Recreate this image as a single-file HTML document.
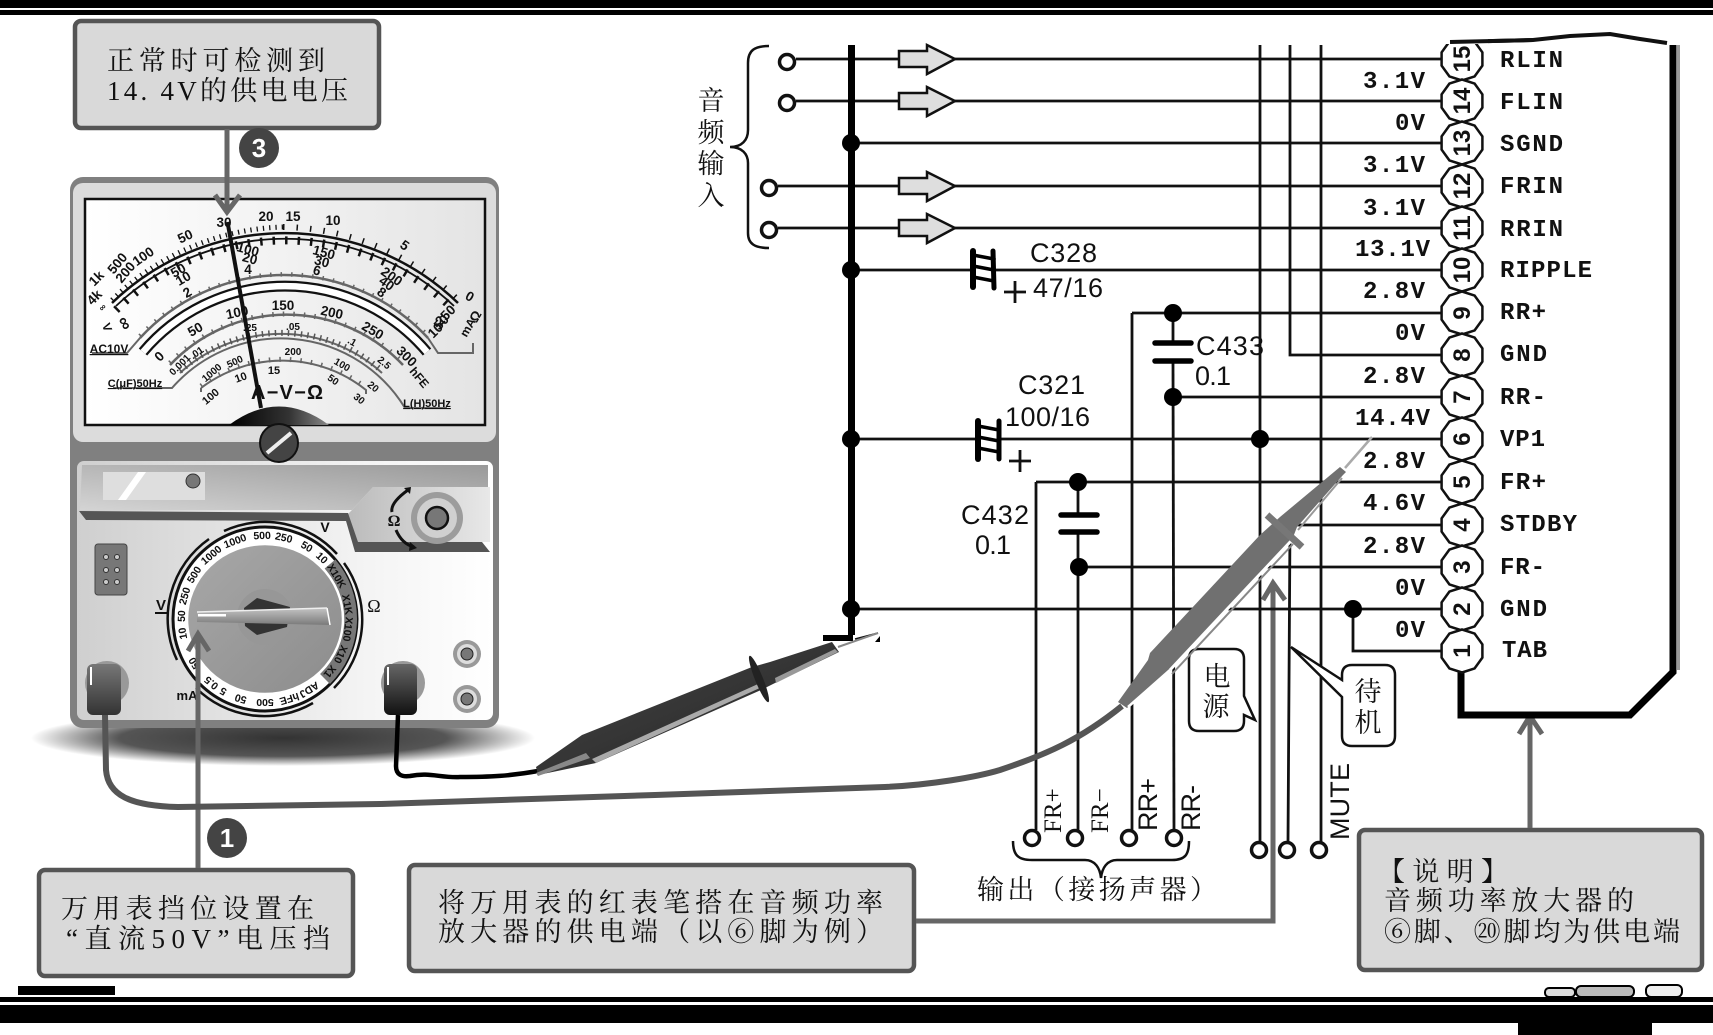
<!DOCTYPE html>
<html><head><meta charset="utf-8">
<style>
html,body{margin:0;padding:0;background:#fff}
svg{display:block}
.c{font-family:"Liberation Serif","Noto Serif CJK SC",serif;fill:#111}
.m{font-family:"Liberation Sans",sans-serif;font-weight:bold;font-size:13.5px;fill:#111;text-anchor:middle}
.d{font-family:"Liberation Sans",sans-serif;font-weight:bold;font-size:10.5px;fill:#111;text-anchor:middle}
.p{font-family:"Liberation Sans",sans-serif;font-size:24px;font-weight:bold;fill:#111;text-anchor:middle}
.l{font-family:"Liberation Mono",monospace;font-size:24px;font-weight:bold;fill:#111}
.s{font-family:"Liberation Sans",sans-serif;font-size:27px;fill:#111}
</style></head>
<body>
<svg width="1713" height="1035" viewBox="0 0 1713 1035" xmlns="http://www.w3.org/2000/svg">
<defs>
<linearGradient id="win" x1="0" x2="1" y1="0" y2="0"><stop offset="0" stop-color="#fff"/><stop offset="1" stop-color="#e4e4e4"/></linearGradient>
<linearGradient id="pan" x1="0" x2="1" y1="0" y2="0"><stop offset="0" stop-color="#cfcfcf"/><stop offset=".7" stop-color="#f4f4f4"/><stop offset="1" stop-color="#fff"/></linearGradient>
<linearGradient id="up" x1="0" x2="1" y1="1" y2="0"><stop offset="0" stop-color="#d4d4d4"/><stop offset="1" stop-color="#999"/></linearGradient>
<linearGradient id="upr" x1="0" x2="1" y1="0" y2="0"><stop offset="0" stop-color="#bbb"/><stop offset="1" stop-color="#e8e8e8"/></linearGradient>
<linearGradient id="dome" x1="0" x2="1" y1="0" y2="0"><stop offset="0" stop-color="#000"/><stop offset=".6" stop-color="#333"/><stop offset="1" stop-color="#888"/></linearGradient>
<linearGradient id="plug" x1="0" x2="0" y1="0" y2="1"><stop offset="0" stop-color="#777"/><stop offset="1" stop-color="#333"/></linearGradient>
<linearGradient id="plug2" x1="0" x2="0" y1="0" y2="1"><stop offset="0" stop-color="#666"/><stop offset="1" stop-color="#111"/></linearGradient>
<linearGradient id="hand" x1="0" x2="0" y1="0" y2="1"><stop offset="0" stop-color="#c4c4c4"/><stop offset="1" stop-color="#7a7a7a"/></linearGradient>
<linearGradient id="dial" x1="0" x2="1" y1="0" y2="1"><stop offset="0" stop-color="#a8a8a8"/><stop offset="1" stop-color="#8c8c8c"/></linearGradient>
<radialGradient id="sh"><stop offset="0" stop-color="#333"/><stop offset=".65" stop-color="#555"/><stop offset="1" stop-color="#fff"/></radialGradient>
<linearGradient id="pb" x1="0" x2="1" y1="0" y2="1"><stop offset="0" stop-color="#484848"/><stop offset="1" stop-color="#222"/></linearGradient>
<polygon id="pin" points="20.4,6.6 12.6,17.4 0,21.5 -12.6,17.4 -20.4,6.6 -20.4,-6.6 -12.6,-17.4 0,-21.5 12.6,-17.4 20.4,-6.6" fill="#fff" stroke="#111" stroke-width="2.5"/>
</defs>

<!-- frame bars -->
<rect x="0" y="0" width="1713" height="8" fill="#000"/>
<rect x="0" y="10" width="1713" height="5" fill="#000"/>
<rect x="0" y="997" width="1713" height="5" fill="#000"/>
<rect x="0" y="1005" width="1713" height="18" fill="#000"/>
<rect x="18" y="986" width="97" height="9" fill="#000"/>
<rect x="1518" y="1022" width="134" height="13" fill="#000"/>
<rect x="1545" y="988" width="30" height="9" rx="4" fill="#ddd" stroke="#000" stroke-width="2"/>
<rect x="1576" y="986" width="58" height="11" rx="5" fill="#bbb" stroke="#000" stroke-width="2"/>
<rect x="1646" y="985" width="36" height="12" rx="5" fill="#eee" stroke="#000" stroke-width="2"/>

<!-- meter shadow -->
<ellipse cx="283" cy="738" rx="252" ry="28" fill="url(#sh)"/>

<!-- meter body -->
<rect x="70" y="177" width="429" height="551" rx="13" fill="#808080"/>
<rect x="73" y="183" width="423" height="259" rx="10" fill="#dcdcdc"/>
<rect x="85" y="199" width="400" height="226" fill="url(#win)" stroke="#111" stroke-width="2.5"/>
<rect x="77" y="461" width="416" height="259" rx="7" fill="url(#pan)"/>
<polygon points="373,487 490,487 490,542 357,542 348,514 352,510" fill="url(#upr)"/>
<polygon points="82,465 488,465 488,487 373,487 352,510 80,510" fill="url(#up)"/>
<polygon points="79,511 348,513 358,542 482,542 490,552 355,552 346,521 86,520" fill="#555"/>
<rect x="103" y="472" width="102" height="28" fill="#dedede"/>
<polygon points="118,500 138,472 146,472 126,500" fill="#fff"/>
<circle cx="193" cy="481" r="7" fill="#777" stroke="#333"/>
<circle cx="437" cy="518" r="26" fill="#9c9c9c"/>
<circle cx="437" cy="518" r="20" fill="#d0d0d0"/>
<circle cx="437" cy="518" r="11" fill="#777" stroke="#111" stroke-width="2.5"/>
<path d="M408,490 Q390,503 392,512" fill="none" stroke="#111" stroke-width="3"/><path d="M404,488 L411,487 L410,494 Z" fill="#111"/>
<path d="M396,530 Q402,544 414,547" fill="none" stroke="#111" stroke-width="3"/><path d="M410,542 L417,548 L409,551 Z" fill="#111"/>
<text x="394" y="526" font-family="Liberation Serif,serif" font-weight="bold" font-size="16" text-anchor="middle" fill="#111">Ω</text>

<!-- 6-hole block -->
<rect x="95" y="544" width="32" height="51" rx="3" fill="#777" stroke="#444"/>
<g fill="#ccc" stroke="#333"><circle cx="106" cy="557" r="2.5"/><circle cx="117" cy="557" r="2.5"/><circle cx="106" cy="570" r="2.5"/><circle cx="117" cy="570" r="2.5"/><circle cx="106" cy="582" r="2.5"/><circle cx="117" cy="582" r="2.5"/></g>

<!-- small sockets -->
<circle cx="467" cy="654" r="14" fill="#999"/><circle cx="467" cy="654" r="10" fill="#ddd"/><circle cx="467" cy="654" r="6" fill="#777" stroke="#222"/>
<circle cx="467" cy="699" r="14" fill="#999"/><circle cx="467" cy="699" r="10" fill="#ddd"/><circle cx="467" cy="699" r="6" fill="#777" stroke="#222"/>

<!-- dial -->
<circle cx="265" cy="619" r="92" fill="#fff" stroke="#111" stroke-width="3"/>
<path d="M330,564 A85,85 0 0 1 325,679" fill="none" stroke="#777" stroke-width="14"/>
<g fill="none" stroke="#111" stroke-width="2.5">
<path d="M224,531 A97,97 0 0 1 337,554"/>
<path d="M177,660 A97,97 0 0 1 209,539"/>
<path d="M344,563 A97,97 0 0 1 334,688"/>
<path d="M313,703 A97,97 0 0 1 196,688"/>
</g>
<ellipse cx="265" cy="619" rx="78" ry="75" fill="url(#dial)" stroke="#fff" stroke-width="2.5"/>
<circle cx="265" cy="617" r="28" fill="#979797"/>
<polygon points="244,608 257,598 290,607 287,627 257,635 245,626" fill="#333"/>
<polygon points="197,612 327,608 330,625 197,622" fill="url(#hand)"/>
<line x1="327" y1="608" x2="330" y2="625" stroke="#fff" stroke-width="1.5"/>
<line x1="197" y1="612" x2="327" y2="608" stroke="#eee" stroke-width="1.5"/>
<rect x="198" y="614" width="28" height="2.5" fill="#fff"/>
<g>
<text class="d" x="265" y="539" transform="rotate(-21 265 619)">1000</text>
<text class="d" x="265" y="539" transform="rotate(-2 265 619)">500</text>
<text class="d" x="265" y="539" transform="rotate(13 265 619)">250</text>
<text class="d" x="265" y="539" transform="rotate(30 265 619)">50</text>
<text class="d" x="265" y="539" transform="rotate(43 265 619)">10</text>
<text class="d" x="265" y="539" transform="rotate(59 265 619)">X10K</text>
<text class="d" x="265" y="539" transform="rotate(80 265 619)">X1K</text>
<text class="d" x="265" y="539" transform="rotate(97 265 619)">X100</text>
<text class="d" x="265" y="539" transform="rotate(115 265 619)">X10</text>
<text class="d" x="265" y="539" transform="rotate(129 265 619)">X1</text>
<text class="d" x="265" y="539" transform="rotate(148 265 619)">ADJ</text>
<text class="d" x="265" y="539" transform="rotate(163 265 619)">hFE</text>
<text class="d" x="265" y="539" transform="rotate(180 265 619)">500</text>
<text class="d" x="265" y="539" transform="rotate(197 265 619)">50</text>
<text class="d" x="265" y="539" transform="rotate(210 265 619)">5</text>
<text class="d" x="265" y="539" transform="rotate(220 265 619)">0.5</text>
<text class="d" x="265" y="539" transform="rotate(238 265 619)">50</text>
<text class="d" x="265" y="539" transform="rotate(260 265 619)">10</text>
<text class="d" x="265" y="539" transform="rotate(272 265 619)">50</text>
<text class="d" x="265" y="539" transform="rotate(286 265 619)">250</text>
<text class="d" x="265" y="539" transform="rotate(302 265 619)">500</text>
<text class="d" x="265" y="539" transform="rotate(320 265 619)">1000</text>
</g>
<text class="m" x="161" y="610" style="font-size:15px">V</text><rect x="155" y="612" width="13" height="2" fill="#111"/>
<text class="m" x="325" y="532" style="font-size:14px">V</text>
<text x="374" y="612" font-family="Liberation Serif,serif" font-size="18" text-anchor="middle" fill="#111">Ω</text>
<text class="m" x="187" y="700" style="font-size:13px">mA</text>

<!-- plugs -->
<circle cx="107" cy="683" r="22" fill="#999"/>
<circle cx="403" cy="683" r="22" fill="#999"/>
<rect x="87" y="664" width="34" height="51" rx="6" fill="url(#plug)"/>
<rect x="384" y="664" width="33" height="51" rx="6" fill="url(#plug2)"/>
<rect x="90" y="667" width="2" height="18" fill="#fff"/><rect x="387" y="667" width="2" height="18" fill="#fff"/>

<!-- meter face arcs -->
<g fill="none" stroke-linecap="butt">
<path d="M112,303 A249,249 0 0 1 458,303" stroke="#111" stroke-width="2.5"/>
<path d="M116,306 A246,246 0 0 1 454,306" stroke="#111" stroke-width="1.8"/>
<path d="M112,300 A254,254 0 0 1 283,227" stroke="#111" stroke-width="5" stroke-dasharray="1.3 5"/>
<path d="M283,227 A254,254 0 0 1 458,300" stroke="#111" stroke-width="6" stroke-dasharray="1.5 12"/>
<path d="M116,310 A240,240 0 0 1 454,310" stroke="#111" stroke-width="8" stroke-dasharray="2.5 10"/>
<path d="M140,338 A196,196 0 0 1 428,338" stroke="#666" stroke-width="2.5"/>
<path d="M140,336 A199,199 0 0 1 428,336" stroke="#666" stroke-width="4.5" stroke-dasharray="1.5 9"/>
<path d="M140,338 L127,353 L92,353" stroke="#666" stroke-width="2"/>
<path d="M428,338 L438,353 L473,353 L473,343" stroke="#666" stroke-width="2"/>
<path d="M143,352 A186,186 0 0 1 427,352" stroke="#111" stroke-width="11"/>
<path d="M143,352 A186,186 0 0 1 427,352" stroke="#fff" stroke-width="6.5"/>
<path d="M170,365 A160,160 0 0 1 403,365" stroke="#666" stroke-width="2.5"/>
<path d="M170,363 A163,163 0 0 1 403,363" stroke="#666" stroke-width="5" stroke-dasharray="1.5 9"/>
<path d="M180,373 A150,150 0 0 1 382,373" stroke="#666" stroke-width="2"/>
<path d="M180,371 A153,153 0 0 1 382,371" stroke="#555" stroke-width="6" stroke-dasharray="1.5 5"/>
<path d="M113,388 L172,388 A145,145 0 0 1 405,408 L447,408" stroke="#666" stroke-width="2"/>
<path d="M201,388 L201,392 M201,388 A134,134 0 0 1 366,390 L366,394" stroke="#666" stroke-width="2"/>
<path d="M201,386 A137,137 0 0 1 366,388" stroke="#666" stroke-width="5" stroke-dasharray="1.5 9"/>
</g>
<g>
<text class="m" x="224" y="227">30</text><text class="m" x="266" y="221">20</text><text class="m" x="293" y="221">15</text><text class="m" x="333" y="225">10</text>
<text class="m" x="405" y="250" transform="rotate(35 405 245)">5</text>
<text class="m" x="185" y="241" transform="rotate(-25 185 236)">50</text>
<text class="m" x="143" y="261" transform="rotate(-35 143 256)">100</text>
<text class="m" x="117" y="268" transform="rotate(-50 117 263)">500</text>
<text class="m" x="125" y="277" transform="rotate(-50 125 272)">200</text>
<text class="m" x="96" y="283" transform="rotate(-45 96 278)">1k</text>
<text class="m" x="94" y="302" transform="rotate(-45 94 297)">4k</text>
<text class="m" x="248" y="254" transform="rotate(15 248 249)">100</text><text class="m" x="250" y="263" transform="rotate(15 250 258)">20</text><text class="m" x="248" y="274">4</text>
<text class="m" x="324" y="257" transform="rotate(15 324 252)">150</text><text class="m" x="322" y="266" transform="rotate(15 322 261)">30</text><text class="m" x="317" y="275" transform="rotate(15 317 270)">6</text>
<text class="m" x="392" y="281" transform="rotate(35 392 276)">200</text><text class="m" x="387" y="288" transform="rotate(35 387 283)">40</text><text class="m" x="382" y="297" transform="rotate(35 382 292)">8</text>
<text class="m" x="178" y="275" transform="rotate(-30 178 270)">50</text><text class="m" x="183" y="283" transform="rotate(-30 183 278)">10</text><text class="m" x="187" y="297" transform="rotate(-30 187 292)">2</text>
<text class="m" x="125" y="329" transform="rotate(60 125 323)" style="font-size:18px">∞</text>
<text class="m" x="101" y="311" transform="rotate(-45 101 306)" style="font-size:9px">∞</text>
<text class="m" x="108" y="332" transform="rotate(70 108 327)" style="font-size:12px">V</text>
<text class="m" x="470" y="301" transform="rotate(30 470 296)">0</text>
<text class="m" x="445" y="320" transform="rotate(-45 445 315)">250</text><text class="m" x="441" y="327" transform="rotate(-45 441 322)">50</text><text class="m" x="435" y="335" transform="rotate(-45 435 330)">10</text>
<text class="m" x="467" y="332" transform="rotate(-60 467 327)" style="font-size:12px">mA</text><text class="m" x="475" y="321" transform="rotate(-60 475 316)">Ω</text>
<text class="m" x="109" y="353" style="font-size:12px;text-decoration:underline">AC10V</text>
<text class="m" x="159" y="361" transform="rotate(-45 159 356)">0</text>
<text class="m" x="195" y="334" transform="rotate(-30 195 329)">50</text>
<text class="m" x="237" y="317" transform="rotate(-12 237 312)">100</text>
<text class="m" x="283" y="310">150</text>
<text class="m" x="332" y="317" transform="rotate(12 332 312)">200</text>
<text class="m" x="373" y="335" transform="rotate(30 373 330)">250</text>
<text class="m" x="407" y="361" transform="rotate(45 407 356)">300</text>
<text class="m" x="420" y="382" transform="rotate(50 420 377)" style="font-size:12px">hFE</text>
<text class="m" x="180" y="368" transform="rotate(-45 180 365)" style="font-size:10px">0.001</text>
<text class="m" x="197" y="356" transform="rotate(-35 197 353)" style="font-size:10px">.01</text>
<text class="m" x="250" y="331" style="font-size:10px">.25</text>
<text class="m" x="293" y="330" style="font-size:10px">.05</text>
<text class="m" x="352" y="345" transform="rotate(30 352 342)" style="font-size:10px">.1</text>
<text class="m" x="384" y="366" transform="rotate(40 384 363)" style="font-size:10px">2.5</text>
<text class="m" x="212" y="376" transform="rotate(-40 212 373)" style="font-size:10px">1000</text>
<text class="m" x="235" y="365" transform="rotate(-25 235 362)" style="font-size:10px">500</text>
<text class="m" x="293" y="355" style="font-size:10px">200</text>
<text class="m" x="342" y="368" transform="rotate(30 342 365)" style="font-size:10px">100</text>
<text class="m" x="333" y="383" transform="rotate(35 333 380)" style="font-size:10px">50</text>
<text class="m" x="373" y="390" transform="rotate(40 373 387)" style="font-size:10px">20</text>
<text class="m" x="211" y="400" transform="rotate(-40 211 397)" style="font-size:11px">100</text>
<text class="m" x="241" y="381" transform="rotate(-20 241 378)" style="font-size:11px">10</text>
<text class="m" x="274" y="374" style="font-size:11px">15</text>
<text class="m" x="359" y="402" transform="rotate(40 359 399)" style="font-size:10px">30</text>
<text class="m" x="135" y="387" style="font-size:11px;text-decoration:underline">C(μF)50Hz</text>
<text class="m" x="427" y="407" style="font-size:11px;text-decoration:underline">L(H)50Hz</text>
<text class="m" x="251" y="399" style="font-size:20px;text-anchor:start" textLength="72">A−V−Ω</text>
</g>
<path d="M229,425 Q279,388 329,425 Z" fill="url(#dome)"/>
<line x1="227.5" y1="222" x2="261" y2="408" stroke="#111" stroke-width="4"/>
<circle cx="279" cy="443" r="19" fill="#444" stroke="#111" stroke-width="2"/>
<line x1="267" y1="453" x2="291" y2="433" stroke="#eee" stroke-width="4"/>

<!-- callout boxes -->
<rect x="75" y="21" width="304" height="107" rx="6" fill="#d9d9d9" stroke="#555" stroke-width="4.5"/>
<rect x="39" y="870" width="314" height="106" rx="6" fill="#d9d9d9" stroke="#555" stroke-width="4.5"/>
<rect x="409" y="865" width="505" height="106" rx="6" fill="#d9d9d9" stroke="#555" stroke-width="4.5"/>
<rect x="1359" y="830" width="343" height="140" rx="6" fill="#d9d9d9" stroke="#555" stroke-width="4.5"/>
<g font-size="27">
<text class="c" x="107" y="70" textLength="218">正常时可检测到</text>
<text class="c" x="107" y="100" textLength="241">14. 4V的供电电压</text>
<text class="c" x="61" y="918" textLength="253">万用表挡位设置在</text>
<text class="c" x="66" y="948" textLength="264">“直流50V”电压挡</text>
<text class="c" x="438" y="912" textLength="445">将万用表的红表笔搭在音频功率</text>
<text class="c" x="438" y="941" textLength="445">放大器的供电端（以⑥脚为例）</text>
<text class="c" x="1378" y="881" textLength="130">【说明】</text>
<text class="c" x="1384" y="910" textLength="250">音频功率放大器的</text>
<text class="c" x="1384" y="941" textLength="296">⑥脚、⑳脚均为供电端</text>
</g>

<!-- gray leaders -->
<g fill="none" stroke="#666" stroke-width="5">
<line x1="227" y1="129" x2="227" y2="211"/><polyline points="215,195 227,212 240,195"/>
<line x1="198" y1="868" x2="198" y2="635"/><polyline points="188,651 198,634 209,651"/>
<polyline points="916,921 1273,921 1273,584"/><polyline points="1263,600 1273,583 1285,600"/>
<line x1="1530" y1="828" x2="1530" y2="717"/><polyline points="1519,734 1530,716 1542,734"/>
</g>
<circle cx="259" cy="148" r="20" fill="#444"/><text x="259" y="157" font-family="Liberation Sans,sans-serif" font-weight="bold" font-size="26" text-anchor="middle" fill="#fff">3</text>
<circle cx="227" cy="838" r="20" fill="#444"/><text x="227" y="847" font-family="Liberation Sans,sans-serif" font-weight="bold" font-size="26" text-anchor="middle" fill="#fff">1</text>

<!-- schematic wires -->
<g fill="none" stroke="#111" stroke-width="2.8">
<line x1="796" y1="59" x2="1441" y2="59"/>
<line x1="796" y1="101" x2="1441" y2="101"/>
<line x1="851" y1="143" x2="1441" y2="143"/>
<line x1="778" y1="186" x2="1441" y2="186"/>
<line x1="778" y1="228" x2="1441" y2="228"/>
<line x1="851" y1="270" x2="1441" y2="270"/>
<line x1="1132" y1="313" x2="1441" y2="313"/>
<polyline points="1290,45 1290,355 1441,355"/>
<line x1="1173" y1="397" x2="1441" y2="397"/>
<line x1="851" y1="439" x2="1441" y2="439"/>
<line x1="1036" y1="482" x2="1441" y2="482"/>
<polyline points="1288,842 1290,525 1441,525"/>
<line x1="1079" y1="567" x2="1441" y2="567"/>
<line x1="851" y1="609" x2="1441" y2="609"/>
<polyline points="1353,609 1353,651 1441,651"/>
<line x1="1260" y1="45" x2="1260" y2="842"/>
<line x1="1321" y1="45" x2="1321" y2="842"/>
<polyline points="1132,313 1132,830"/>
<polyline points="1173,313 1173,343"/><polyline points="1173,361 1174,830"/>
<polyline points="1036,482 1036,830"/>
<polyline points="1078,482 1078,515"/><polyline points="1078,532 1078,830"/>
</g>
<rect x="848" y="45" width="7" height="590" fill="#000"/>
<rect x="823" y="635" width="30" height="6" fill="#000"/>
<polygon points="875,642 880,636 880,642" fill="#000"/>
<line x1="855" y1="639" x2="878" y2="633" stroke="#111" stroke-width="1.5"/>

<!-- dots -->
<g fill="#000">
<circle cx="851" cy="143" r="9"/><circle cx="851" cy="270" r="9"/><circle cx="851" cy="439" r="9"/><circle cx="851" cy="609" r="9"/>
<circle cx="1173" cy="313" r="9"/><circle cx="1173" cy="397" r="9"/><circle cx="1078" cy="482" r="9"/><circle cx="1079" cy="567" r="9"/>
<circle cx="1260" cy="439" r="9"/><circle cx="1353" cy="609" r="9"/>
</g>

<!-- capacitor plates -->
<g stroke="#000" stroke-width="5.5" stroke-linecap="round">
<line x1="1155" y1="343" x2="1191" y2="343"/><line x1="1155" y1="361" x2="1191" y2="361"/>
<line x1="1061" y1="515" x2="1097" y2="515"/><line x1="1061" y1="532" x2="1097" y2="532"/>
</g>
<g>
<rect x="975" y="250" width="20" height="38" fill="#fff"/>
<g stroke="#000" fill="none" stroke-linecap="round"><line x1="973" y1="251" x2="973" y2="287" stroke-width="6"/><line x1="993" y1="251" x2="994" y2="288" stroke-width="5"/>
<line x1="973" y1="255" x2="994" y2="259" stroke-width="3.5"/><line x1="973" y1="266" x2="994" y2="270" stroke-width="3.5"/><line x1="973" y1="277" x2="994" y2="281" stroke-width="3.5"/></g>
<rect x="979" y="420" width="20" height="40" fill="#fff"/>
<g stroke="#000" fill="none" stroke-linecap="round"><line x1="978" y1="421" x2="978" y2="459" stroke-width="6"/><line x1="999" y1="421" x2="999" y2="459" stroke-width="5"/>
<line x1="978" y1="426" x2="999" y2="430" stroke-width="3.5"/><line x1="978" y1="437" x2="999" y2="441" stroke-width="3.5"/><line x1="978" y1="448" x2="999" y2="452" stroke-width="3.5"/></g>
</g>
<g stroke="#111" stroke-width="2.8"><line x1="1004" y1="292" x2="1026" y2="292"/><line x1="1015" y1="281" x2="1015" y2="303"/><line x1="1009" y1="461" x2="1031" y2="461"/><line x1="1020" y1="450" x2="1020" y2="472"/></g>
<text class="s" x="1030" y="262" textLength="67">C328</text>
<text class="s" x="1033" y="297" textLength="70">47/16</text>
<text class="s" x="1018" y="394" textLength="67">C321</text>
<text class="s" x="1005" y="426" textLength="85">100/16</text>
<text class="s" x="961" y="524" textLength="68">C432</text>
<text class="s" x="975" y="554" textLength="36">0.1</text>
<text class="s" x="1196" y="355" textLength="68">C433</text>
<text class="s" x="1195" y="385" textLength="36">0.1</text>

<!-- input terminals -->
<g fill="#fff" stroke="#111" stroke-width="3.5">
<circle cx="787" cy="62" r="7.5"/><circle cx="787" cy="103" r="7.5"/><circle cx="769" cy="188" r="7.5"/><circle cx="769" cy="230" r="7.5"/>
<circle cx="1032" cy="838" r="7.5"/><circle cx="1075" cy="838" r="7.5"/><circle cx="1129" cy="838" r="7.5"/><circle cx="1174" cy="838" r="7.5"/>
<circle cx="1259" cy="850" r="7.5"/><circle cx="1287" cy="850" r="7.5"/><circle cx="1319" cy="850" r="7.5"/>
</g>
<!-- hollow arrows -->
<g fill="#dedede" stroke="#111" stroke-width="2.5">
<polygon points="899,51 927,51 927,45 955,59 927,74 927,67 899,67"/>
<polygon points="899,93 927,93 927,87 955,101 927,116 927,109 899,109"/>
<polygon points="899,178 927,178 927,172 955,186 927,201 927,194 899,194"/>
<polygon points="899,220 927,220 927,214 955,228 927,243 927,236 899,236"/>
</g>
<!-- braces -->
<g fill="none" stroke="#111" stroke-width="2.5">
<path d="M769,46 C755,46 748,50 748,63 L748,130 C748,140 742,147 730,147 C742,147 748,154 748,163 L748,233 C748,244 755,248 769,248"/>
<path d="M1013,841 C1013,855 1018,860 1032,860 L1085,860 C1095,860 1100,868 1101,878 C1102,868 1107,860 1117,860 L1172,860 C1185,860 1189,855 1189,841"/>
</g>
<g font-size="27">
<text class="c" x="711" y="110" text-anchor="middle">音</text>
<text class="c" x="711" y="142" text-anchor="middle">频</text>
<text class="c" x="711" y="173" text-anchor="middle">输</text>
<text class="c" x="711" y="205" text-anchor="middle">入</text>
<text class="c" x="977" y="899" textLength="240">输出（接扬声器）</text>
</g>

<!-- vertical labels -->
<text class="c" font-size="25" transform="translate(1061 833) rotate(-90)">FR+</text>
<text class="c" font-size="25" transform="translate(1108 833) rotate(-90)">FR−</text>
<text class="s" transform="translate(1157 831) rotate(-90)" textLength="53">RR+</text>
<text class="s" transform="translate(1200 831) rotate(-90)" textLength="46">RR-</text>
<text class="s" transform="translate(1349 840) rotate(-90)" textLength="77">MUTE</text>

<!-- IC outline -->
<polyline points="1450,42 1533,40 1570,36 1610,34 1640,39 1667,43" fill="none" stroke="#111" stroke-width="4"/>
<polyline points="1673,45 1673,672 1630,715 1461,715 1461,670" fill="none" stroke="#000" stroke-width="7"/>
<rect x="1677" y="45" width="3" height="625" fill="#999"/>

<!-- pins -->
<rect x="1436" y="20" width="52" height="25" fill="#fff"/>
<use href="#pin" x="1462" y="59"/><use href="#pin" x="1462" y="101"/><use href="#pin" x="1462" y="143"/><use href="#pin" x="1462" y="186"/><use href="#pin" x="1462" y="228"/>
<use href="#pin" x="1462" y="270"/><use href="#pin" x="1462" y="313"/><use href="#pin" x="1462" y="355"/><use href="#pin" x="1462" y="397"/><use href="#pin" x="1462" y="439"/>
<use href="#pin" x="1462" y="482"/><use href="#pin" x="1462" y="525"/><use href="#pin" x="1462" y="567"/><use href="#pin" x="1462" y="609"/><use href="#pin" x="1462" y="651"/>
<rect x="1436" y="20" width="52" height="24" fill="#fff"/>
<polyline points="1450,42 1533,40" fill="none" stroke="#111" stroke-width="4"/>
<text class="p" x="1462" y="67" transform="rotate(-90 1462 59)">15</text>
<text class="p" x="1462" y="109" transform="rotate(-90 1462 101)">14</text>
<text class="p" x="1462" y="151" transform="rotate(-90 1462 143)">13</text>
<text class="p" x="1462" y="194" transform="rotate(-90 1462 186)">12</text>
<text class="p" x="1462" y="236" transform="rotate(-90 1462 228)">11</text>
<text class="p" x="1462" y="278" transform="rotate(-90 1462 270)">10</text>
<text class="p" x="1462" y="321" transform="rotate(-90 1462 313)">9</text>
<text class="p" x="1462" y="363" transform="rotate(-90 1462 355)">8</text>
<text class="p" x="1462" y="405" transform="rotate(-90 1462 397)">7</text>
<text class="p" x="1462" y="447" transform="rotate(-90 1462 439)">6</text>
<text class="p" x="1462" y="490" transform="rotate(-90 1462 482)">5</text>
<text class="p" x="1462" y="533" transform="rotate(-90 1462 525)">4</text>
<text class="p" x="1462" y="575" transform="rotate(-90 1462 567)">3</text>
<text class="p" x="1462" y="617" transform="rotate(-90 1462 609)">2</text>
<text class="p" x="1462" y="659" transform="rotate(-90 1462 651)">1</text>

<!-- pin names -->
<g>
<text class="l" x="1500" y="67" textLength="63">RLIN</text>
<text class="l" x="1500" y="109" textLength="63">FLIN</text>
<text class="l" x="1500" y="151" textLength="63">SGND</text>
<text class="l" x="1500" y="193" textLength="63">FRIN</text>
<text class="l" x="1500" y="236" textLength="63">RRIN</text>
<text class="l" x="1500" y="277" textLength="92">RIPPLE</text>
<text class="l" x="1500" y="319" textLength="46">RR+</text>
<text class="l" x="1500" y="361" textLength="47">GND</text>
<text class="l" x="1500" y="404" textLength="46">RR-</text>
<text class="l" x="1500" y="446" textLength="45">VP1</text>
<text class="l" x="1500" y="489" textLength="46">FR+</text>
<text class="l" x="1500" y="531" textLength="77">STDBY</text>
<text class="l" x="1500" y="574" textLength="45">FR-</text>
<text class="l" x="1500" y="616" textLength="47">GND</text>
<text class="l" x="1502" y="657" textLength="45">TAB</text>
<!-- voltages -->
<text class="l" x="1363" y="88" textLength="62">3.1V</text>
<text class="l" x="1395" y="130" textLength="30">0V</text>
<text class="l" x="1363" y="172" textLength="62">3.1V</text>
<text class="l" x="1363" y="215" textLength="62">3.1V</text>
<text class="l" x="1355" y="256" textLength="75">13.1V</text>
<text class="l" x="1363" y="298" textLength="62">2.8V</text>
<text class="l" x="1395" y="340" textLength="30">0V</text>
<text class="l" x="1363" y="383" textLength="62">2.8V</text>
<text class="l" x="1355" y="425" textLength="75">14.4V</text>
<text class="l" x="1363" y="468" textLength="62">2.8V</text>
<text class="l" x="1363" y="510" textLength="62">4.6V</text>
<text class="l" x="1363" y="553" textLength="62">2.8V</text>
<text class="l" x="1395" y="595" textLength="30">0V</text>
<text class="l" x="1395" y="637" textLength="30">0V</text>
</g>

<!-- speech callouts -->
<path d="M1199,649 H1234 Q1244,649 1244,659 V696 L1255,720 L1244,715 V721 Q1244,731 1234,731 H1199 Q1189,731 1189,721 V659 Q1189,649 1199,649 Z" fill="#fff" stroke="#111" stroke-width="2.5"/>
<path d="M1352,665 H1385 Q1395,665 1395,675 V736 Q1395,746 1385,746 H1352 Q1342,746 1342,736 V697 L1291,647 L1342,680 V675 Q1342,665 1352,665 Z" fill="#fff" stroke="#111" stroke-width="2.5"/>
<g font-size="27">
<text class="c" x="1217" y="686" text-anchor="middle">电</text>
<text class="c" x="1216" y="716" text-anchor="middle">源</text>
<text class="c" x="1368" y="701" text-anchor="middle">待</text>
<text class="c" x="1368" y="732" text-anchor="middle">机</text>
</g>

<!-- cables -->
<path d="M105,715 L106,770 C108,795 130,806 178,807 L380,804 L655,795 L885,787 C930,785 977,777 1000,770 C1045,755 1080,740 1122,706" fill="none" stroke="#555" stroke-width="6"/>
<path d="M398,715 L396,766 C396,775 402,777 410,776 C430,772 440,778 460,777 C490,777 510,776 538,771" fill="none" stroke="#000" stroke-width="4.5"/>

<!-- black probe -->
<polygon points="536,767 582,735 752,667 770,662 832,642 839,652 775,683 761,690 596,763 538,775" fill="url(#pb)"/>
<polygon points="592,759 758,684 762,687 596,763" fill="#aaa"/>
<polygon points="536,773 586,753 590,758 538,776" fill="#888"/>
<polygon points="775,678 835,649 838,652 776,683" fill="#999"/>
<ellipse cx="759" cy="679" rx="4" ry="25" transform="rotate(-22 759 679)" fill="#222"/>
<line x1="838" y1="647" x2="878" y2="633" stroke="#888" stroke-width="2"/>

<!-- gray probe -->
<line x1="1372" y1="437" x2="1345" y2="468" stroke="#aaa" stroke-width="2.5"/>
<polygon points="1340,467 1346,472 1343,475 1297,527 1292,540 1168,673 1127,708 1118,702 1148,660 1150,653 1260,535 1280,517" fill="#707070"/>
<line x1="1342" y1="478" x2="1298" y2="530" stroke="#999" stroke-width="2"/>
<line x1="1291" y1="541" x2="1170" y2="670" stroke="#fff" stroke-width="3"/>
<line x1="1293" y1="544" x2="1172" y2="674" stroke="#888" stroke-width="2"/>
<line x1="1170" y1="670" x2="1128" y2="707" stroke="#fff" stroke-width="2.5"/>
<line x1="1267" y1="515" x2="1302" y2="547" stroke="#777" stroke-width="7"/>
</svg>
</body></html>
